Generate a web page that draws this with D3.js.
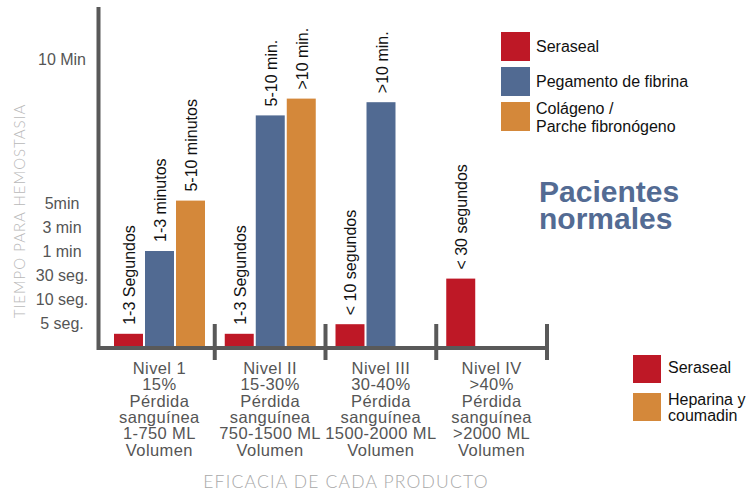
<!DOCTYPE html>
<html>
<head>
<meta charset="utf-8">
<script src="https://d3js.org/d3.v7.min.js"></script>
<style>
  html, body { margin: 0; padding: 0; background: #fff; }
  svg { display: block; }
</style>
</head>
<body>
<div id="chart"></div>
<script>
// Data. Heights are in "step" units of the uneven time axis
// (each tick label below is one step apart, except 10 Min).
const levels = ["Nivel 1", "Nivel II", "Nivel III", "Nivel IV"];
const levelLines = [
  ["Nivel 1", "15%", "Pérdida", "sanguínea", "1-750 ML", "Volumen"],
  ["Nivel II", "15-30%", "Pérdida", "sanguínea", "750-1500 ML", "Volumen"],
  ["Nivel III", "30-40%", "Pérdida", "sanguínea", "1500-2000 ML", "Volumen"],
  ["Nivel IV", ">40%", "Pérdida", "sanguínea", ">2000 ML", "Volumen"]
];
const products = ["Seraseal", "Pegamento de fibrina", "Colágeno / Parche fibronógeno"];
const serasealValues = [0.55, 0.55, 0.95, 2.85];
const fibrinaValues = [4.0, 9.65, 10.2, null];
const colagenoValues = [6.1, 10.35, null, null];
const serasealLabels = ["1-3 Segundos", "1-3 Segundos", "< 10 segundos", "< 30 segundos"];
const fibrinaLabels = ["1-3 minutos", "5-10 min.", ">10 min.", null];
const colagenoLabels = ["5-10 minutos", ">10 min.", null, null];
const tickValues = [1, 2, 3, 4, 5, 6, 12];
const tickLabels = ["5 seg.", "10 seg.", "30 seg.", "1 min", "3 min", "5min", "10 Min"];
const legendTop = [["Seraseal"], ["Pegamento de fibrina"], ["Colágeno /", "Parche fibronógeno"]];
const legendBottom = [["Seraseal"], ["Heparina y", "coumadin"]];

const colors = { "Seraseal": "#be1826", "Pegamento de fibrina": "#516a92", "Colágeno / Parche fibronógeno": "#d4883a" };
const axisColor = "#595959";
const font = "'Liberation Sans', Arial, sans-serif";

const W = 746, H = 496;
const svg = d3.select("#chart").append("svg").attr("width", W).attr("height", H);

const x = d3.scaleBand().domain(levels).range([104, 547]);
const xs = d3.scaleBand().domain(products).range([10, 101]).paddingInner(0.065);
const y = d3.scaleLinear().domain([0, 12]).range([347, 59]);

// flat list of bars
const seriesValues = [serasealValues, fibrinaValues, colagenoValues];
const seriesLabels = [serasealLabels, fibrinaLabels, colagenoLabels];
const bars = [];
levels.forEach((lv, i) => {
  products.forEach((p, j) => {
    const v = seriesValues[j][i];
    if (v != null) bars.push({ level: lv, product: p, value: v, label: seriesLabels[j][i] });
  });
});

// bars
svg.append("g").selectAll("rect")
  .data(bars)
  .join("rect")
  .attr("x", d => x(d.level) + xs(d.product))
  .attr("y", d => y(d.value))
  .attr("width", xs.bandwidth())
  .attr("height", d => y(0) - y(d.value))
  .attr("fill", d => colors[d.product]);

// value labels, rotated
svg.append("g").selectAll("text")
  .data(bars)
  .join("text")
  .attr("transform", d => `translate(${x(d.level) + xs(d.product) + xs.bandwidth() / 2 + 1},${y(d.value) - 9}) rotate(-90)`)
  .attr("dominant-baseline", "central")
  .style("font-family", font)
  .style("font-size", "16px")
  .style("fill", "#111")
  .text(d => d.label);

// axes lines
const ax = svg.append("g").attr("stroke", axisColor).attr("stroke-width", 4);
ax.append("line").attr("x1", 98.5).attr("x2", 98.5).attr("y1", 7).attr("y2", 350);
ax.append("line").attr("x1", 97).attr("x2", 549).attr("y1", 348).attr("y2", 348);
ax.selectAll(".tick")
  .data(levels)
  .join("line")
  .attr("x1", d => x(d) + x.bandwidth())
  .attr("x2", d => x(d) + x.bandwidth())
  .attr("y1", 324).attr("y2", 360);

// y tick labels
const yAxis = svg.append("g")
  .attr("transform", "translate(62,0)")
  .call(d3.axisLeft(y).tickValues(tickValues).tickSize(0).tickFormat((d, i) => tickLabels[i]));
yAxis.select(".domain").remove();
yAxis.selectAll("text")
  .attr("x", 0)
  .attr("text-anchor", "middle")
  .style("font-family", font)
  .style("font-size", "16px")
  .style("fill", "#555");

// category labels
const cat = svg.append("g").selectAll("text")
  .data(levels)
  .join("text")
  .attr("text-anchor", "middle")
  .style("font-family", font)
  .style("font-size", "16.5px")
  .style("letter-spacing", "0.4px")
  .style("fill", "#555");
cat.each(function(d, i) {
  d3.select(this).selectAll("tspan")
    .data(levelLines[i])
    .join("tspan")
    .attr("x", x(d) + x.bandwidth() / 2)
    .attr("y", (t, k) => 374 + k * 16.3)
    .text(t => t);
});

// axis titles
svg.append("text")
  .attr("transform", "translate(25,211) rotate(-90)")
  .attr("text-anchor", "middle")
  .style("font-family", "Lato, sans-serif")
  .style("font-weight", 300)
  .style("font-size", "15px")
  .style("letter-spacing", "1px")
  .style("fill", "#b8b8b8")
  .text("TIEMPO PARA HEMOSTASIA");

svg.append("text")
  .attr("x", 346).attr("y", 488)
  .attr("text-anchor", "middle")
  .style("font-family", "Lato, sans-serif")
  .style("font-weight", 300)
  .style("font-size", "17.5px")
  .style("letter-spacing", "1.2px")
  .style("fill", "#a8a8a8")
  .text("EFICACIA DE CADA PRODUCTO");

// top legend
const lg = svg.append("g").selectAll("g")
  .data(products)
  .join("g")
  .attr("transform", (d, i) => `translate(501,${32 + i * 35})`);
lg.append("rect").attr("width", 29).attr("height", 29).attr("fill", d => colors[d]);
lg.append("text")
  .style("font-family", font)
  .style("font-size", "16px")
  .style("fill", "#111")
  .each(function(d, i) {
    const lines = legendTop[i];
    d3.select(this).selectAll("tspan")
      .data(lines)
      .join("tspan")
      .attr("x", 35)
      .attr("y", (t, k) => (lines.length === 1 ? 20 : 12) + k * 18)
      .text(t => t);
  });

// title
svg.append("text")
  .style("font-family", font)
  .style("font-weight", "bold")
  .style("font-size", "30px")
  .style("fill", "#536b93")
  .selectAll("tspan")
  .data(["Pacientes", "normales"])
  .join("tspan")
  .attr("x", 539)
  .attr("y", (t, k) => 202 + k * 27)
  .text(t => t);

// bottom legend
const legendBottomColors = [colors["Seraseal"], colors["Colágeno / Parche fibronógeno"]];
const lb = svg.append("g").selectAll("g")
  .data(legendBottom)
  .join("g")
  .attr("transform", (d, i) => `translate(633,${355 + i * 38})`);
lb.append("rect").attr("width", 28).attr("height", 28).attr("fill", (d, i) => legendBottomColors[i]);
lb.append("text")
  .style("font-family", font)
  .style("font-size", "16px")
  .style("fill", "#111")
  .each(function(lines) {
    d3.select(this).selectAll("tspan")
      .data(lines)
      .join("tspan")
      .attr("x", 35)
      .attr("y", (t, k) => (lines.length === 1 ? 18 : 12) + k * 15.5)
      .text(t => t);
  });
</script>
</body>
</html>
